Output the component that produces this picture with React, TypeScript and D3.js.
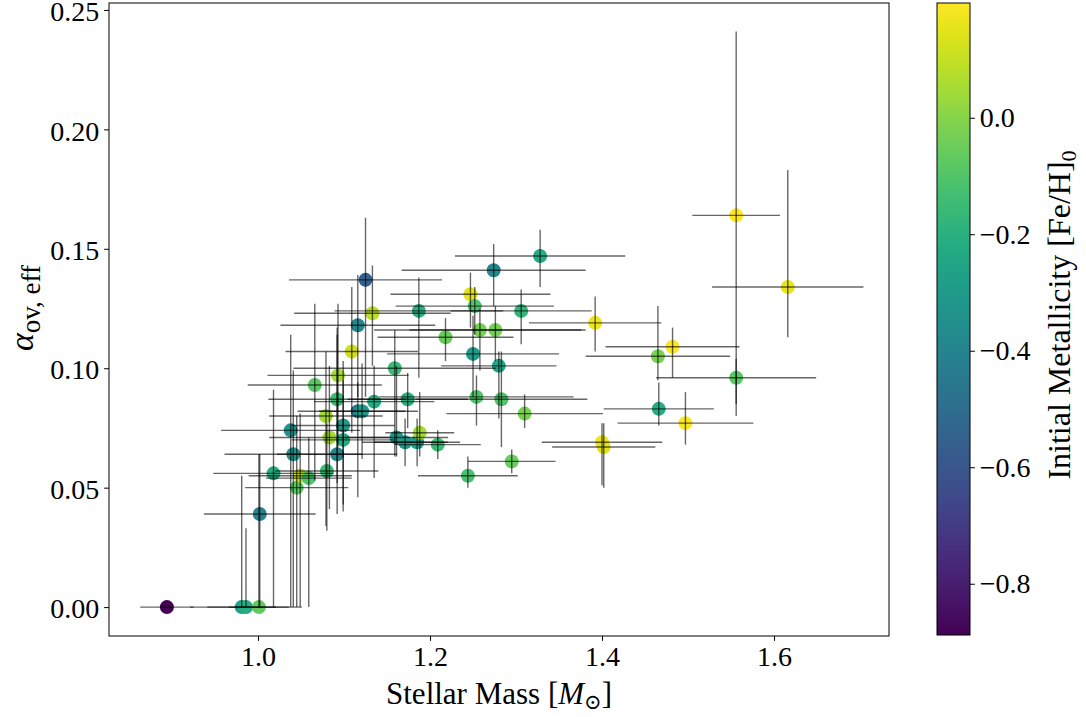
import React, { useEffect, useRef } from 'react';
import * as d3 from 'd3';

// stellar mass [Msun] and its symmetric error
const mass = [
  0.894, 0.981, 0.986, 1.001, 1.002, 1.018, 1.038, 1.041, 1.045, 1.049,
  1.059, 1.066, 1.080, 1.079, 1.083, 1.092, 1.093, 1.092, 1.099, 1.099,
  1.109, 1.116, 1.116, 1.121, 1.125, 1.133, 1.135, 1.159, 1.161, 1.171,
  1.174, 1.185, 1.188, 1.187, 1.209, 1.218, 1.244, 1.247, 1.252, 1.250,
  1.254, 1.258, 1.274, 1.276, 1.280, 1.283, 1.295, 1.306, 1.310, 1.328,
  1.392, 1.400, 1.402, 1.465, 1.466, 1.482, 1.497, 1.556, 1.556, 1.616
];
const massErr = [
  0.031, 0.040, 0.065, 0.035, 0.065, 0.070, 0.081, 0.080, 0.060, 0.060,
  0.050, 0.078, 0.060, 0.066, 0.070, 0.080, 0.082, 0.070, 0.060, 0.060,
  0.077, 0.090, 0.070, 0.050, 0.089, 0.091, 0.070, 0.118, 0.060, 0.050,
  0.070, 0.050, 0.040, 0.098, 0.050, 0.079, 0.058, 0.093, 0.092, 0.100,
  0.113, 0.123, 0.107, 0.100, 0.067, 0.100, 0.051, 0.082, 0.091, 0.099,
  0.077, 0.070, 0.060, 0.084, 0.064, 0.078, 0.079, 0.051, 0.093, 0.088
];
// effective overshoot and its lower / upper errors
const alphaOv = [
  0.000, 0.000, 0.000, 0.000, 0.039, 0.056, 0.074, 0.064, 0.050, 0.055,
  0.054, 0.093, 0.057, 0.080, 0.071, 0.087, 0.097, 0.064, 0.076, 0.070,
  0.107, 0.118, 0.082, 0.082, 0.137, 0.123, 0.086, 0.100, 0.071, 0.069,
  0.087, 0.069, 0.073, 0.124, 0.068, 0.113, 0.055, 0.131, 0.126, 0.106,
  0.088, 0.116, 0.141, 0.116, 0.101, 0.087, 0.061, 0.124, 0.081, 0.147,
  0.119, 0.069, 0.067, 0.105, 0.083, 0.109, 0.077, 0.164, 0.096, 0.134
];
const alphaLo = [
  0.000, 0.000, 0.000, 0.000, 0.039, 0.056, 0.074, 0.064, 0.050, 0.055,
  0.054, 0.040, 0.025, 0.046, 0.030, 0.035, 0.030, 0.025, 0.033, 0.030,
  0.034, 0.030, 0.036, 0.020, 0.049, 0.022, 0.032, 0.037, 0.008, 0.010,
  0.012, 0.010, 0.010, 0.028, 0.006, 0.010, 0.005, 0.014, 0.012, 0.018,
  0.012, 0.017, 0.015, 0.013, 0.022, 0.020, 0.005, 0.014, 0.006, 0.013,
  0.012, 0.018, 0.017, 0.010, 0.007, 0.013, 0.009, 0.084, 0.011, 0.021
];
const alphaHi = [
  0.000, 0.055, 0.033, 0.064, 0.025, 0.035, 0.040, 0.035, 0.030, 0.026,
  0.017, 0.034, 0.020, 0.027, 0.030, 0.030, 0.030, 0.050, 0.027, 0.025,
  0.027, 0.021, 0.012, 0.020, 0.026, 0.020, 0.015, 0.016, 0.030, 0.010,
  0.011, 0.010, 0.017, 0.014, 0.006, 0.008, 0.008, 0.009, 0.008, 0.016,
  0.009, 0.009, 0.011, 0.010, 0.006, 0.020, 0.005, 0.009, 0.008, 0.011,
  0.011, 0.008, 0.010, 0.021, 0.011, 0.008, 0.013, 0.077, 0.008, 0.049
];
// initial metallicity [Fe/H]_0
const feh = [
  -0.888, -0.27, -0.22, -0.07, -0.40, -0.22, -0.33, -0.33, -0.08, 0.10,
  -0.10, -0.08, -0.15, 0.05, 0.05, -0.15, 0.05, -0.40, -0.30, -0.22,
  0.12, -0.38, -0.45, -0.30, -0.55, 0.08, -0.22, -0.15, -0.30, -0.30,
  -0.20, -0.28, 0.05, -0.20, -0.15, -0.05, -0.12, 0.15, -0.10, -0.30,
  -0.10, -0.03, -0.38, -0.03, -0.25, -0.10, -0.05, -0.18, -0.02, -0.22,
  0.17, 0.17, 0.15, -0.02, -0.22, 0.19, 0.19, 0.197, -0.08, 0.16
];

const xTicks = [1.0, 1.2, 1.4, 1.6];
const yTicks = [0.0, 0.05, 0.1, 0.15, 0.2, 0.25];
const cTicks = [-0.8, -0.6, -0.4, -0.2, 0.0];

export default function App() {
  const ref = useRef<SVGSVGElement>(null);

  useEffect(() => {
    const svg = d3.select(ref.current);
    svg.selectAll('*').remove();

    const left = 109, right = 889, top = 3, bottom = 636;
    const font = '"Liberation Serif", "DejaVu Serif", serif';
    const tick = 4.9;

    const xScale = d3.scaleLinear().domain([0.8267, 1.7337]).range([left, right]);
    const yScale = d3.scaleLinear().domain([-0.0121, 0.2529]).range([bottom, top]);
    const cExtent = d3.extent(feh) as [number, number];
    const cNorm = d3.scaleLinear().domain(cExtent).range([0, 1]);
    const color = (v: number) => d3.interpolateViridis(cNorm(v));

    svg.append('rect').attr('width', 1086).attr('height', 717).attr('fill', '#fff');

    const idx = d3.range(mass.length);

    // points
    svg.append('g').selectAll('circle')
      .data(idx)
      .enter()
      .append('circle')
        .attr('cx', i => xScale(mass[i]))
        .attr('cy', i => yScale(alphaOv[i]))
        .attr('r', 7)
        .attr('fill', i => color(feh[i]));

    // error bars on top
    const bars = svg.append('g')
      .attr('stroke', '#000')
      .attr('stroke-opacity', 0.6)
      .attr('stroke-width', 1.4);

    bars.selectAll('line.xerr')
      .data(idx)
      .enter()
      .append('line')
        .attr('class', 'xerr')
        .attr('x1', i => xScale(mass[i] - massErr[i]))
        .attr('x2', i => xScale(mass[i] + massErr[i]))
        .attr('y1', i => yScale(alphaOv[i]))
        .attr('y2', i => yScale(alphaOv[i]));

    bars.selectAll('line.yerr')
      .data(idx.filter(i => alphaLo[i] + alphaHi[i] > 0))
      .enter()
      .append('line')
        .attr('class', 'yerr')
        .attr('x1', i => xScale(mass[i]))
        .attr('x2', i => xScale(mass[i]))
        .attr('y1', i => yScale(alphaOv[i] - alphaLo[i]))
        .attr('y2', i => yScale(alphaOv[i] + alphaHi[i]));

    // axes
    const xAxis = svg.append('g')
      .attr('transform', 'translate(0,' + bottom + ')')
      .call(d3.axisBottom(xScale).tickValues(xTicks).tickFormat(d3.format('.1f'))
        .tickSize(tick).tickSizeOuter(0).tickPadding(4.9));
    const yAxis = svg.append('g')
      .attr('transform', 'translate(' + left + ',0)')
      .call(d3.axisLeft(yScale).tickValues(yTicks).tickFormat(d3.format('.2f'))
        .tickSize(tick).tickSizeOuter(0).tickPadding(4.9));
    [xAxis, yAxis].forEach(a => {
      a.select('.domain').remove();
      a.selectAll('line').attr('stroke', '#000').attr('stroke-width', 1);
      a.selectAll('text').attr('font-family', font).attr('font-size', 28).attr('fill', '#000');
    });
    yAxis.selectAll('text').attr('dy', '0.38em');

    svg.append('rect')
      .attr('x', left).attr('y', top)
      .attr('width', right - left).attr('height', bottom - top)
      .attr('fill', 'none').attr('stroke', '#000').attr('stroke-width', 1);

    // colorbar
    const cbX = 937, cbW = 33;
    const cScale = d3.scaleLinear().domain(cExtent).range([bottom - 1, top]);
    const grad = svg.append('defs').append('linearGradient')
      .attr('id', 'viridisGrad')
      .attr('x1', 0).attr('y1', 1).attr('x2', 0).attr('y2', 0);
    d3.range(0, 1.0001, 0.05).forEach(t => {
      grad.append('stop').attr('offset', t).attr('stop-color', d3.interpolateViridis(t));
    });
    svg.append('rect')
      .attr('x', cbX).attr('y', top)
      .attr('width', cbW).attr('height', bottom - 1 - top)
      .attr('fill', 'url(#viridisGrad)')
      .attr('stroke', '#000').attr('stroke-width', 1);

    const cAxis = svg.append('g')
      .attr('transform', 'translate(' + (cbX + cbW) + ',0)')
      .call(d3.axisRight(cScale).tickValues(cTicks).tickFormat(d3.format('.1f'))
        .tickSize(tick).tickSizeOuter(0).tickPadding(4.9));
    cAxis.select('.domain').remove();
    cAxis.selectAll('line').attr('stroke', '#000');
    cAxis.selectAll('text').attr('font-family', font).attr('font-size', 28).attr('fill', '#000');

    // labels
    const xl = svg.append('text')
      .attr('x', (left + right) / 2).attr('y', 704)
      .attr('text-anchor', 'middle')
      .attr('font-family', font).attr('font-size', 31);
    xl.append('tspan').text('Stellar Mass [');
    xl.append('tspan').attr('font-style', 'italic').text('M');
    xl.append('tspan').attr('font-size', 21).attr('dy', 5).text('⊙');
    xl.append('tspan').attr('dy', -5).text(']');

    const yl = svg.append('text')
      .attr('transform', 'translate(33,308) rotate(-90)')
      .attr('text-anchor', 'middle')
      .attr('font-family', font).attr('font-size', 34);
    yl.append('tspan').attr('font-style', 'italic').text('α');
    yl.append('tspan').attr('font-size', 27).attr('dy', 7).text('ov, eff');

    const cl = svg.append('text')
      .attr('transform', 'translate(1070,315) rotate(-90)')
      .attr('text-anchor', 'middle')
      .attr('font-family', font).attr('font-size', 32);
    cl.append('tspan').text('Initial Metallicity [Fe/H]');
    cl.append('tspan').attr('font-size', 22).attr('dy', 6).text('0');
  }, []);

  return (
    <svg ref={ref} width={1086} height={717}
      style={{ position: 'absolute', left: 0, top: 0 }} />
  );
}
